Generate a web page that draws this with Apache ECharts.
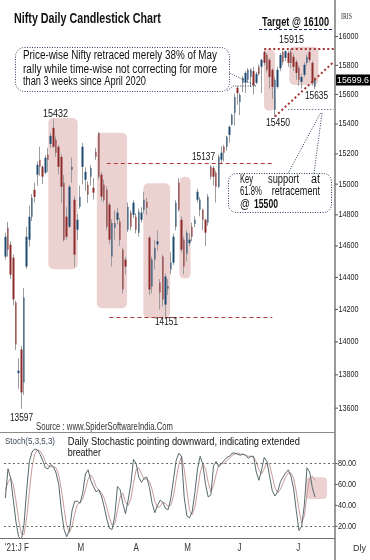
<!DOCTYPE html>
<html><head><meta charset="utf-8">
<script src="https://cdn.jsdelivr.net/npm/echarts@6/dist/echarts.min.js"></script>
<style>html,body{margin:0;padding:0;background:#fff}#c{width:370px;height:560px}</style>
</head><body><div id="c"></div>
<script>
// ---------- DATA ----------
const dates = ['01-20','01-21','01-22','01-25','01-27','01-28','01-29',
'02-01','02-02','02-03','02-04','02-05','02-08','02-09','02-10','02-11','02-12','02-15','02-16','02-17','02-18','02-19','02-22','02-23','02-24','02-25','02-26',
'03-01','03-02','03-03','03-04','03-05','03-08','03-09','03-10','03-12','03-15','03-16','03-17','03-18','03-19','03-22','03-23','03-24','03-25','03-26','03-30','03-31',
'04-01','04-05','04-06','04-07','04-08','04-09','04-12','04-13','04-15','04-16','04-19','04-20','04-22','04-23','04-26','04-27','04-28','04-29','04-30',
'05-03','05-04','05-05','05-06','05-07','05-10','05-11','05-12','05-14','05-17','05-18','05-19','05-20','05-21','05-24','05-25','05-26','05-27','05-28','05-31',
'06-01','06-02','06-03','06-04','06-07','06-08','06-09','06-10','06-11','06-14','06-15','06-16','06-17','06-18','06-21','06-22','06-23','06-24','06-25','06-28','06-29','06-30',
'07-01','07-02','07-05','07-06','07-07','07-08','07-09','07-12','07-13','07-14','07-15','07-16','07-19','07-20','07-22'];

const opens  = [14532,14717,14608,14525,14243,13810,13954,13754,14469,14640,14787,14963,15062,15161,15114,15075,15194,15266,15374,15294,15247,15180,15009,14788,14723,15094,14898,14704,14853,15114,15029,14996,15049,14976,15214,15340,15062,14996,14963,14866,14532,14717,14768,14755,14576,14513,14704,14814,14800,14788,14685,14768,14833,14885,14653,14343,14513,14610,14368,14532,14230,14330,14450,14494,14723,15009,14768,14640,14550,14618,14723,14740,14898,14833,14833,14768,14749,15114,15107,15075,14983,15161,15247,15247,15327,15395,15475,15645,15548,15680,15680,15700,15720,15760,15680,15790,15790,15893,15872,15838,15769,15495,15652,15780,15893,15852,15886,15895,15859,15824,15783,15686,15735,15817,15893,15817,15652];
const closes = [14659,14576,14418,14262,13984,13825,13694,14274,14659,14787,14911,14917,15127,15114,15049,15174,15161,15320,15247,15207,15114,14983,14640,14659,14983,15115,14545,14768,14918,15247,15081,14931,15107,14944,15180,15048,14918,14898,14723,14640,14748,14748,14814,14640,14324,14469,14853,14723,14879,14704,14820,14814,14898,14846,14324,14513,14589,14630,14305,14262,14406,14345,14494,14659,14879,14833,14576,14469,14684,14640,14659,14768,14950,14898,14768,14685,14918,15049,15049,14983,15180,15207,15207,15314,15381,15461,15583,15610,15597,15714,15748,15769,15769,15665,15740,15740,15838,15817,15769,15720,15652,15700,15769,15872,15824,15898,15817,15817,15790,15748,15700,15720,15803,15859,15838,15680,15700];
const lows   = [14513,14532,14390,14225,13950,13715,13597,13680,14455,14595,14760,14880,14990,15055,15000,15065,15080,15240,15240,15180,15065,14875,14628,14640,14715,15008,14468,14638,14840,15000,14956,14878,14990,14900,15160,15030,14890,14880,14700,14610,14469,14640,14740,14600,14300,14420,14690,14700,14780,14680,14660,14750,14810,14800,14290,14300,14450,14570,14200,14220,14151,14290,14420,14480,14700,14820,14560,14420,14500,14600,14630,14720,14880,14790,14700,14600,14730,15030,14990,14880,14975,15130,15150,15220,15275,15390,15390,15530,15460,15615,15610,15680,15650,15600,15670,15730,15610,15800,15750,15640,15570,15450,15640,15760,15800,15830,15790,15780,15760,15700,15660,15640,15720,15800,15820,15660,15635];
const highs  = [14685,14755,14630,14545,14255,13900,13975,14335,14723,14860,14935,15010,15150,15247,15125,15190,15240,15340,15432,15314,15260,15200,15060,14849,14995,15176,14920,14806,14990,15273,15110,15020,15125,15040,15240,15345,15080,15030,14985,14880,14770,14830,14845,14780,14590,14530,14880,14830,14895,14810,14840,14850,14950,14910,14665,14530,14640,14700,14390,14545,14425,14390,14560,14680,14895,15040,14790,14660,14700,14680,14750,14790,14970,14915,14840,14775,14935,15125,15120,15090,15195,15250,15260,15320,15390,15470,15606,15660,15610,15725,15760,15780,15780,15790,15755,15805,15845,15905,15885,15850,15780,15720,15790,15885,15905,15905,15900,15915,15880,15840,15800,15740,15820,15875,15907,15830,15720];

const stochK = [47,75,66,45,24,10,7,22,55,82,91,94,93,89,83,76,75,79,77,71,60,35,17,10,16,35,44,44,42,52,70,74,64,58,53,55,49,39,27,18,17,30,58,55,42,32,45,60,84,80,67,62,66,67,57,42,33,40,45,43,37,36,47,65,83,90,87,48,30,28,34,52,75,87,79,60,48,50,78,82,77,80,83,86,87,90,90,89,88,89,88,85,87,87,72,64,74,86,82,68,54,49,53,62,67,71,74,68,56,35,16,20,40,76,72,57,48];
const stochD = [55,62,66,60,44,26,13,12,28,53,76,89,93,92,88,82,78,77,77,76,69,55,37,21,14,20,32,41,43,46,55,65,69,65,58,55,52,47,38,28,21,22,35,48,52,43,40,46,61,74,76,70,65,65,63,55,44,38,39,43,42,39,40,49,65,79,87,75,55,35,31,38,54,71,80,75,62,53,59,70,79,80,80,83,85,88,89,90,89,89,88,87,87,86,82,74,70,75,81,79,68,57,52,55,61,67,71,71,66,53,36,23,30,50,66,68,64];

const priceTicks = [13600,13800,14000,14200,14400,14600,14800,15000,15200,15400,15600,15800,16000];
const stochTicks = [20,40,60,80];
const monthLabels = ["'21:J","F","M","A","M","J","J"];
const lastPrice = 15699.6;
const keyLevels = {high:15915, swingLow:15450, trendEnd:15824, res:15137, sup:14151, fib:15500};
// highlight zones: [fromIndex, toIndex, topValue, bottomValue]
const priceZones = [[16.1,27.1,15440,14452],[34.3,45.6,15341,14207],[51.7,61.7,15006,14145],[65.2,69.4,15049,14393],[96.9,101.0,15911,15490],[106.4,117.3,15929,15665]];
const stochZones = [[112.6,120.5,67,46]];

// ---------- CHART ----------
const BLUE = '#1d4a72', RED = '#8d2a2a', WICK = '#9c9c9c';
const ohlc = opens.map((o,i)=>[o, closes[i], lows[i], highs[i]]);
const bodies = opens.map((o,i)=>[o, closes[i], Math.min(o,closes[i]), Math.max(o,closes[i])]);
const monthStarts = [];
dates.forEach((d,i)=>{ if(i===0 || d.slice(0,2)!==dates[i-1].slice(0,2)) monthStarts.push(i); });

const chart = echarts.init(document.getElementById('c'), null, {renderer:'canvas', width:370, height:560});
const c = (i,v)=>({coord:[dates[i], v]});
const option = {
  animation:false,
  backgroundColor:'#fff',
  grid:[
    {left:4, right:35, top:0, height:432, outerBoundsMode:'none'},
    {left:4, right:35, top:432, height:106, outerBoundsMode:'none'}
  ],
  xAxis:[
    {type:'category', gridIndex:0, data:dates, boundaryGap:true, show:false},
    {type:'category', gridIndex:1, data:dates, boundaryGap:true, show:false}
  ],
  yAxis:[
    {type:'log', logBase:10, gridIndex:0, min:13459, max:16258, show:false},
    {type:'value', gridIndex:1, min:8.8, max:110.2, show:false}
  ],
  series:[
    {type:'candlestick', name:'range', xAxisIndex:0, yAxisIndex:0, data:ohlc, barWidth:1, silent:true,
     itemStyle:{color:WICK, color0:WICK, borderColor:WICK, borderColor0:WICK, borderWidth:1},
     markLine:{silent:true, symbol:['none','none'], label:{show:false},
       data:[
         [Object.assign(c(97,keyLevels.high),{lineStyle:{type:[2,2.5],color:'#a33232',width:2}}), c(123,keyLevels.high)],
         [Object.assign(c(101,keyLevels.swingLow),{lineStyle:{type:[2,2.5],color:'#a33232',width:2}}), c(123,keyLevels.trendEnd)],
         [Object.assign(c(38,keyLevels.res),{lineStyle:{type:[4,3],color:'#b03838',width:1.1}}), c(100,keyLevels.res)],
         [Object.assign(c(39,keyLevels.sup),{lineStyle:{type:[4,3],color:'#b03838',width:1.1}}), c(100,keyLevels.sup)],
         [Object.assign(c(106,keyLevels.fib),{lineStyle:{type:[1,2],color:'#33466a',width:1}}), c(123,keyLevels.fib)]
       ]}},
    {type:'candlestick', name:'body', xAxisIndex:0, yAxisIndex:0, data:bodies, barWidth:2, silent:true,
     itemStyle:{color:BLUE, color0:RED, borderColor:BLUE, borderColor0:RED, borderWidth:0}},
    {type:'line', name:'%D', xAxisIndex:1, yAxisIndex:1, data:stochD, symbol:'none', silent:true,
     lineStyle:{color:'#c79c9c', width:1}},
    {type:'line', name:'%K', xAxisIndex:1, yAxisIndex:1, data:stochK, symbol:'none', silent:true,
     lineStyle:{color:'#56686b', width:1},
     markLine:{silent:true, symbol:['none','none'], label:{show:false},
       lineStyle:{type:[2,2.5], color:'#5d6e5d', width:1.2},
       data:[{yAxis:80},{yAxis:20}]}}
  ]
};
chart.setOption(option);

// ---------- ANNOTATIONS ----------
const mctx = document.createElement('canvas').getContext('2d');
const FAM = '"Liberation Sans", Arial, sans-serif';
function fitText(text, x1, x2, yc, size, weight, color, family){
  family = family || FAM;
  const font = (weight||'normal') + ' ' + size + 'px ' + family;
  mctx.font = font;
  const w = mctx.measureText(text).width || 1;
  return {type:'text', x:x1, y:yc, scaleX:(x2-x1)/w, z:50,
    style:{text:text, font:font, fill:color||'#000', textAlign:'left', textVerticalAlign:'middle', align:'left', verticalAlign:'middle'}};
}
function scaledText(text, x, yc, size, sx, color){
  const font = size + 'px ' + FAM;
  return {type:'text', x:x, y:yc, scaleX:sx, z:50,
    style:{text:text, font:font, fill:color, textAlign:'left', textVerticalAlign:'middle', align:'left', verticalAlign:'middle'}};
}
function line(x1,y1,x2,y2,color,w,dash,z){
  return {type:'line', z:z||40, shape:{x1,y1,x2,y2}, style:{stroke:color, lineWidth:w, lineDash:dash||null}};
}
const p0 = (i,v)=>chart.convertToPixel({xAxisIndex:0, yAxisIndex:0}, [i, v]);
const p1 = (i,v)=>chart.convertToPixel({xAxisIndex:1, yAxisIndex:1}, [i, v]);
const x0 = p0(0,15000)[0], step = p0(1,15000)[0]-x0;
const xAt = (f)=> x0 + f*step;

const g = [];
priceZones.forEach(z=>{
  const yT = p0(0,z[2])[1], yB = p0(0,z[3])[1];
  g.push({type:'rect', z:0, shape:{x:xAt(z[0]), y:yT, width:xAt(z[1])-xAt(z[0]), height:yB-yT, r:5},
    style:{fill:'rgba(185,90,90,0.28)'}});
});
stochZones.forEach(z=>{
  const yT = p1(0,z[2])[1], yB = p1(0,z[3])[1];
  g.push({type:'rect', z:0, shape:{x:xAt(z[0]), y:yT, width:xAt(z[1])-xAt(z[0]), height:yB-yT, r:4},
    style:{fill:'rgba(185,90,90,0.28)'}});
});
g.push(line(335,0,335,560,'#9a9a9a',2));
g.push(line(0,432.5,335,432.5,'#8a8a8a',1));
g.push(line(0,538.5,335,538.5,'#6f6f6f',1));
priceTicks.forEach(v=>{
  const y = p0(0,v)[1];
  g.push(line(335,y,338,y,'#555',1));
  g.push(fitText(String(v),338.5,358.5,y,9,'normal','#222'));
});
stochTicks.forEach(v=>{
  const y = p1(0,v)[1];
  g.push(line(335,y,337.5,y,'#555',1));
  g.push(fitText(v.toFixed(2),338,356,y,9,'normal','#222'));
});
monthStarts.forEach((idx,k)=>{
  if(k>=monthLabels.length) return;
  const x = p1(idx,50)[0];
  g.push(scaledText(monthLabels[k], k===0 ? 5 : x, 548.5, 10, 0.8, '#333'));
});
{
  const y = p0(0,lastPrice)[1];
  g.push({type:'rect', z:45, shape:{x:336, y:y-5.5, width:34, height:11}, style:{fill:'#000'}});
  g.push(fitText(String(lastPrice),337,369,y,9.5,'normal','#fff'));
}
g.push(fitText('IRIS',341,352,17,8,'normal','#333','"Liberation Serif", serif'));
g.push(fitText('Nifty Daily Candlestick Chart',14,160.7,19,14,'bold','#111'));
g.push(fitText('Target @ 16100',262,329,23,12,'bold','#111'));
g.push(line(259,29.5,333,29.5,'#1c2f5a',1,[3,2]));
const CS = {fill:'none',stroke:'#2b3b5b',lineWidth:1,lineDash:[1,1.5]};
g.push({type:'rect', z:30, shape:{x:15.5,y:47.5,width:214,height:44,r:9}, style:CS});
g.push({type:'polyline', z:30, shape:{points:[[229.5,73],[256,86]]}, style:CS});
g.push({type:'polyline', z:30, shape:{points:[[227,91],[233,86],[256,86]]}, style:CS});
g.push(fitText('Price-wise Nifty retraced merely 38% of May',23,217,56,12.5,'normal','#111'));
g.push(fitText('rally while time-wise not correcting for more',23,217,69.3,12.5,'normal','#111'));
g.push(fitText('than 3 weeks since April 2020',23,146,81.7,12.5,'normal','#111'));
g.push({type:'rect', z:30, shape:{x:228.5,y:173.5,width:103,height:39,r:8}, style:CS});
g.push({type:'polyline', z:30, shape:{points:[[288,173.5],[320.5,113]]}, style:CS});
g.push({type:'polyline', z:30, shape:{points:[[314,173.5],[322,113]]}, style:CS});
g.push(fitText('Key',240,253,179.3,12,'normal','#111'));
g.push(fitText('support',268,299,179.3,12,'normal','#111'));
g.push(fitText('at',311,320,179.3,12,'normal','#111'));
g.push(fitText('61.8%',240,261.7,191.7,12,'normal','#111'));
g.push(fitText('retracement',271.7,320,191.7,12,'normal','#111'));
g.push(fitText('@',240,250,205,12,'normal','#111'));
g.push(fitText('15500',254,278,205,12,'bold','#111'));
g.push(fitText('15432',43,68,114,10.5,'normal','#111'));
g.push(fitText('14151',155,178,322,10.5,'normal','#111'));
g.push(fitText('15137',192,215,157,10.5,'normal','#111'));
g.push(fitText('13597',10,33,418,10.5,'normal','#111'));
g.push(fitText('15915',279,304,40,10.5,'normal','#111'));
g.push(fitText('15635',305,328,95.7,10.5,'normal','#111'));
g.push(fitText('15450',266,290,122.7,10.5,'normal','#111'));
g.push(fitText('Source : www.SpiderSoftwareIndia.Com',36,173,427.7,10,'normal','#333'));
g.push(fitText('Stoch(5,3,5,3)',5,55,441.7,9.5,'normal','#3c4a5a'));
g.push(fitText('Daily Stochastic pointing downward, indicating extended',67.7,300,441.7,11,'normal','#111'));
g.push(fitText('breather',67.7,101,453.3,11,'normal','#111'));
g.push(fitText('Dly',353,366,549,9,'normal','#333'));

chart.setOption({graphic:{elements:g}});
</script></body></html>
